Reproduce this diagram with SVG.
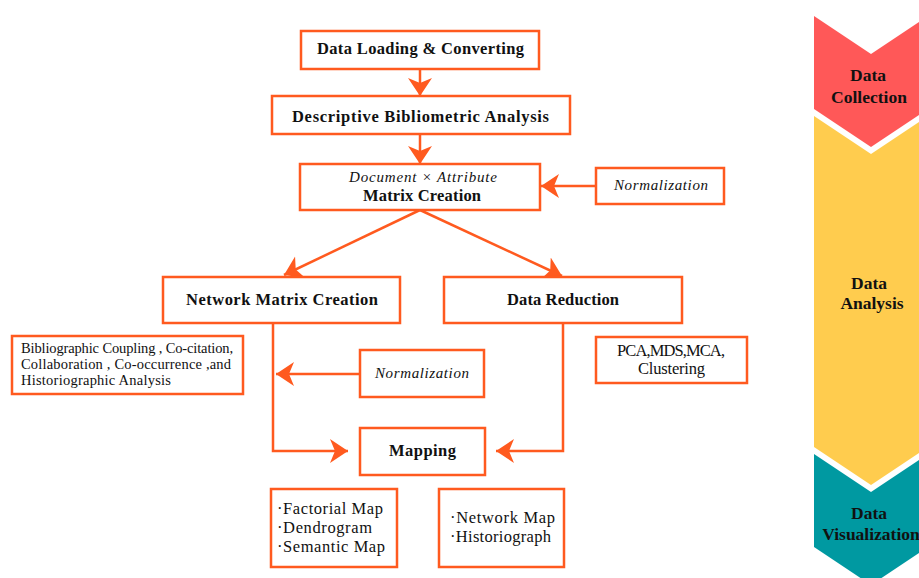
<svg xmlns="http://www.w3.org/2000/svg" width="919" height="578" viewBox="0 0 919 578">
<defs>
<marker id="ah" markerUnits="userSpaceOnUse" markerWidth="20" markerHeight="26" viewBox="0 -13 20 26" refX="18" refY="0" orient="auto">
<path d="M0,-12 L18,0 L0,12 L5,0 z" fill="#FF5A1F"/>
</marker>
<style>
.box{fill:#fff;stroke:#FF5A1F;stroke-width:2.5}
.con{fill:none;stroke:#FF5A1F;stroke-width:2.5;marker-end:url(#ah)}
text{font-family:"Liberation Serif","Times New Roman",serif;fill:#111}
.b{font-weight:bold;font-size:16.5px}
.i{font-style:italic;font-size:15px}
.r{font-size:14.5px}
.r15{font-size:16.5px}
.side{font-weight:bold;font-size:17.5px;text-anchor:middle}
</style>
</defs>
<rect width="919" height="578" fill="#fff"/>

<g id="stages">
<polygon points="814,16 871,54 928,16 928,109 871,147 814,109" fill="#FF5858"/>
<polygon points="814,116 871,154 928,116 928,447 871,485 814,447" fill="#FFCC4E"/>
<polygon points="814,454 871,492 928,454 928,547 871,585 814,547" fill="#0099A1"/>
<text class="side" x="868" y="81">Data</text>
<text class="side" x="869" y="103">Collection</text>
<text class="side" x="869" y="289">Data</text>
<text class="side" x="872" y="309">Analysis</text>
<text class="side" x="869" y="519">Data</text>
<text class="side" x="871" y="540">Visualization</text>
</g>

<g id="connectors">
<line class="con" x1="420" y1="69" x2="420" y2="96"/>
<line class="con" x1="420" y1="134" x2="420" y2="164"/>
<line class="con" x1="596" y1="186" x2="541" y2="186"/>
<line class="con" x1="420" y1="210" x2="284" y2="275"/>
<line class="con" x1="420" y1="210" x2="562" y2="276"/>
<line class="con" x1="360" y1="374" x2="276" y2="374"/>
<polyline class="con" points="273,323 273,451 348,451"/>
<polyline class="con" points="563,323 563,451 496,451"/>
</g>

<g id="n1">
<rect class="box" x="301" y="31" width="238" height="38"/>
<text class="b" x="317" y="54" textLength="207" lengthAdjust="spacing">Data Loading &amp; Converting</text>
</g>
<g id="n2">
<rect class="box" x="272" y="96" width="298" height="38"/>
<text class="b" x="292" y="122" textLength="257" lengthAdjust="spacing">Descriptive  Bibliometric Analysis</text>
</g>
<g id="n3">
<rect class="box" x="300" y="164" width="240" height="46"/>
<text class="i" x="349" y="182" textLength="148" lengthAdjust="spacing">Document × Attribute</text>
<text class="b" x="363" y="201" textLength="118" lengthAdjust="spacing">Matrix Creation</text>
</g>
<g id="n4">
<rect class="box" x="596" y="168" width="128" height="36"/>
<text class="i" x="614" y="190" textLength="94" lengthAdjust="spacing">Normalization</text>
</g>
<g id="n5">
<rect class="box" x="163" y="277" width="237" height="46"/>
<text class="b" x="186" y="305" textLength="192" lengthAdjust="spacing">Network Matrix Creation</text>
</g>
<g id="n6">
<rect class="box" x="444" y="277" width="238" height="46"/>
<text class="b" x="507" y="305" textLength="112" lengthAdjust="spacing">Data Reduction</text>
</g>
<g id="n7">
<rect class="box" x="12" y="336" width="231" height="58"/>
<text class="r" x="21" y="353" textLength="212" lengthAdjust="spacing">Bibliographic Coupling , Co-citation,</text>
<text class="r" x="21" y="369" textLength="210" lengthAdjust="spacing">Collaboration , Co-occurrence ,and</text>
<text class="r" x="21" y="385" textLength="150" lengthAdjust="spacing">Historiographic Analysis</text>
</g>
<g id="n8">
<rect class="box" x="360" y="350" width="124" height="47"/>
<text class="i" x="375" y="378" textLength="94" lengthAdjust="spacing">Normalization</text>
</g>
<g id="n9">
<rect class="box" x="596" y="337" width="151" height="46"/>
<text class="r15" x="617" y="356" textLength="108" lengthAdjust="spacing">PCA,MDS,MCA,</text>
<text class="r15" x="638" y="374" textLength="67" lengthAdjust="spacing">Clustering</text>
</g>
<g id="n10">
<rect class="box" x="360" y="428" width="125" height="47"/>
<text class="b" x="389" y="456" textLength="67" lengthAdjust="spacing">Mapping</text>
</g>
<g id="n11">
<rect class="box" x="271" y="489" width="126" height="78"/>
<text class="r15" x="277" y="514" textLength="106" lengthAdjust="spacing">·Factorial Map</text>
<text class="r15" x="277" y="533" textLength="95" lengthAdjust="spacing">·Dendrogram</text>
<text class="r15" x="277" y="552" textLength="108" lengthAdjust="spacing">·Semantic Map</text>
</g>
<g id="n12">
<rect class="box" x="439" y="489" width="125" height="78"/>
<text class="r15" x="450" y="523" textLength="105" lengthAdjust="spacing">·Network Map</text>
<text class="r15" x="450" y="542" textLength="101" lengthAdjust="spacing">·Historiograph</text>
</g>
</svg>
